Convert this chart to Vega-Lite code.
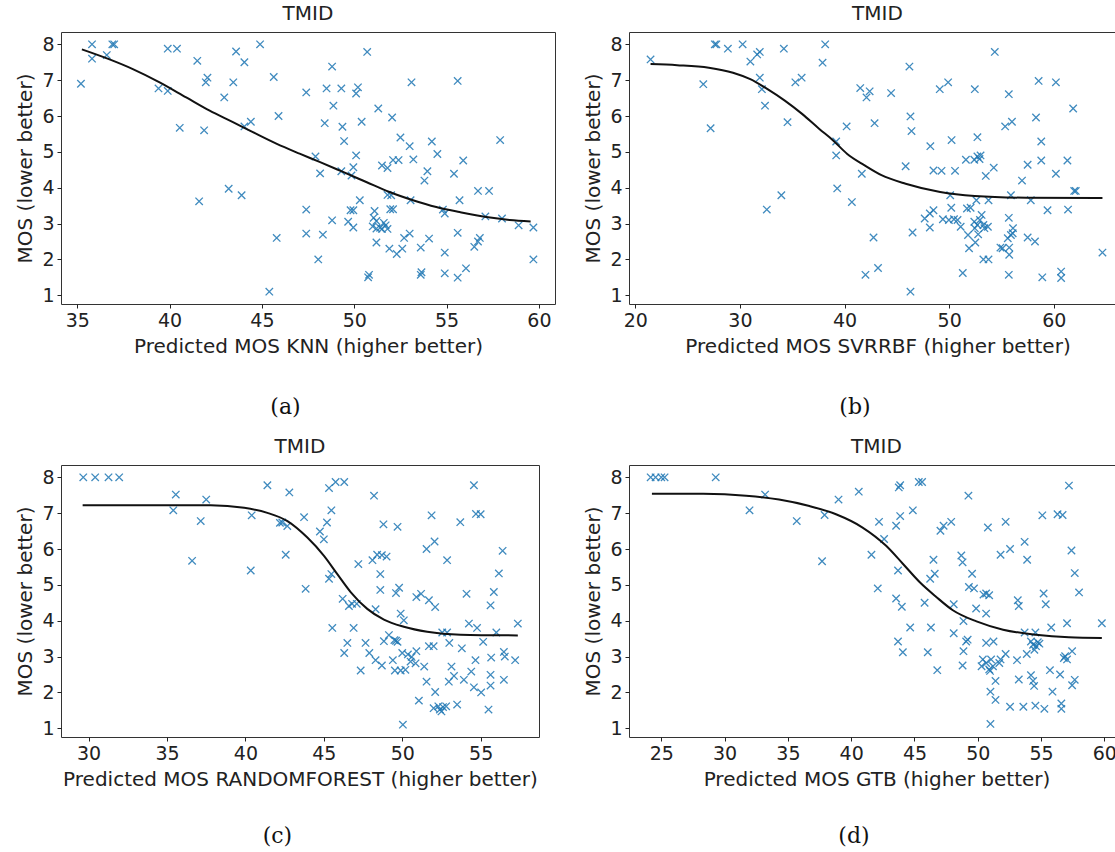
{
  "$schema": "https://vega.github.io/schema/vega-lite/v6.json",
  "padding": {"left": 15, "top": 3, "right": 0, "bottom": 0},
  "background": "white",
  "config": {
    "view": {"stroke": "#333333", "strokeWidth": 1},
    "axis": {"grid": false, "domain": false, "tickColor": "#222222", "tickSize": 4, "tickWidth": 1,
      "labelFont": "DejaVu Sans", "labelFontSize": 19, "labelColor": "#222222", "labelPadding": 3,
      "labelFlush": false, "labelOverlap": false, "labelBound": false, "labelSeparation": -40,
      "titleFont": "DejaVu Sans", "titleFontSize": 20, "titleFontWeight": "normal", "titleColor": "#222222", "titlePadding": 6},
    "axisY": {"labelOverlap": false, "labelSeparation": -40, "tickCount": 8},
    "title": {"font": "DejaVu Sans", "fontSize": 20, "fontWeight": "normal", "color": "#222222", "frame": "group", "anchor": "middle", "offset": 8, "baseline": "alphabetic"},
    "point": {"shape": "M-1,-1L1,1M-1,1L1,-1", "filled": false, "stroke": "#1f77b4", "strokeWidth": 1.3, "size": 55, "opacity": 0.85},
    "line": {"color": "#111111", "strokeWidth": 2, "interpolate": "monotone"}
  },
  "datasets": {
    "a_pts": [
      {"x":35.8,"y":8.0},{"x":35.8,"y":7.6},{"x":36.6,"y":7.7},{"x":36.9,"y":8.0},{"x":37.0,"y":8.0},{"x":35.2,"y":6.9},
      {"x":39.9,"y":7.88},{"x":40.4,"y":7.88},{"x":41.5,"y":7.54},{"x":43.6,"y":7.8},{"x":44.05,"y":7.5},{"x":44.9,"y":8.0},
      {"x":42.05,"y":7.07},{"x":41.96,"y":6.94},{"x":43.45,"y":6.94},{"x":39.4,"y":6.77},{"x":39.9,"y":6.7},{"x":42.96,"y":6.52},
      {"x":40.55,"y":5.67},{"x":41.87,"y":5.6},{"x":44.4,"y":5.84},{"x":44.05,"y":5.71},{"x":45.64,"y":7.09},{"x":45.9,"y":6.0},
      {"x":41.6,"y":3.62},{"x":43.2,"y":3.97},{"x":43.9,"y":3.79},{"x":45.4,"y":1.1},{"x":45.8,"y":2.6},{"x":47.4,"y":6.66},
      {"x":48.5,"y":6.77},{"x":49.3,"y":6.77},{"x":48.8,"y":7.38},{"x":48.87,"y":6.29},{"x":48.4,"y":5.8},{"x":49.36,"y":5.7},
      {"x":49.45,"y":5.3},{"x":50.7,"y":7.79},{"x":50.2,"y":6.8},{"x":50.1,"y":6.63},{"x":51.3,"y":6.21},{"x":50.4,"y":5.84},
      {"x":52.05,"y":5.96},{"x":53.1,"y":6.94},{"x":55.6,"y":6.98},{"x":47.9,"y":4.87},{"x":48.15,"y":4.4},{"x":49.3,"y":4.46},
      {"x":50.1,"y":4.9},{"x":49.95,"y":4.57},{"x":49.85,"y":4.34},{"x":52.5,"y":5.4},{"x":53.0,"y":5.16},{"x":54.2,"y":5.29},
      {"x":54.5,"y":4.94},{"x":53.2,"y":4.79},{"x":51.5,"y":4.62},{"x":51.8,"y":4.55},{"x":52.1,"y":4.77},{"x":52.4,"y":4.77},
      {"x":53.96,"y":4.46},{"x":53.8,"y":4.2},{"x":55.4,"y":4.39},{"x":55.9,"y":4.76},{"x":57.9,"y":5.33},{"x":56.7,"y":3.91},
      {"x":57.3,"y":3.91},{"x":55.7,"y":3.65},{"x":50.3,"y":3.65},{"x":51.8,"y":3.8},{"x":52.0,"y":3.79},{"x":53.05,"y":3.65},
      {"x":51.95,"y":3.4},{"x":52.1,"y":3.4},{"x":54.8,"y":3.39},{"x":54.9,"y":3.28},{"x":57.1,"y":3.2},{"x":58.0,"y":3.14},
      {"x":58.9,"y":2.95},{"x":59.7,"y":2.89},{"x":59.7,"y":2.0},{"x":47.4,"y":3.39},{"x":47.4,"y":2.72},{"x":48.3,"y":2.69},
      {"x":48.8,"y":3.09},{"x":48.05,"y":2.0},{"x":49.67,"y":3.05},{"x":49.95,"y":2.89},{"x":49.8,"y":3.37},{"x":49.95,"y":3.37},
      {"x":51.1,"y":3.35},{"x":51.05,"y":3.16},{"x":51.2,"y":3.07},{"x":51.0,"y":2.92},{"x":51.4,"y":2.88},{"x":51.6,"y":3.02},
      {"x":51.5,"y":2.85},{"x":51.8,"y":2.85},{"x":51.7,"y":2.95},{"x":51.2,"y":2.86},{"x":51.2,"y":2.47},{"x":51.9,"y":2.3},
      {"x":52.3,"y":2.15},{"x":52.6,"y":2.3},{"x":52.7,"y":2.6},{"x":53.0,"y":2.72},{"x":53.6,"y":2.33},{"x":54.05,"y":2.58},
      {"x":54.9,"y":2.19},{"x":55.6,"y":2.74},{"x":50.75,"y":1.5},{"x":50.8,"y":1.57},{"x":53.6,"y":1.57},{"x":53.64,"y":1.64},
      {"x":54.9,"y":1.61},{"x":55.6,"y":1.49},{"x":56.05,"y":1.75},{"x":56.5,"y":2.35},{"x":56.7,"y":2.5},{"x":56.8,"y":2.6}
    ],
    "a_line": [
      {"x":35.25,"y":7.86},{"x":36.75,"y":7.58},{"x":38.01,"y":7.31},{"x":39.46,"y":6.94},{"x":40.9,"y":6.52},{"x":42.17,"y":6.15},
      {"x":43.43,"y":5.83},{"x":44.51,"y":5.55},{"x":45.78,"y":5.23},{"x":47.04,"y":4.95},{"x":48.12,"y":4.72},{"x":49.39,"y":4.44},
      {"x":50.65,"y":4.16},{"x":51.91,"y":3.88},{"x":53.18,"y":3.65},{"x":54.44,"y":3.46},{"x":55.7,"y":3.32},{"x":57.15,"y":3.18},
      {"x":58.41,"y":3.1},{"x":59.55,"y":3.06}
    ],
    "b_pts": [
      {"x":21.46,"y":7.58},{"x":26.5,"y":6.89},{"x":27.2,"y":5.66},{"x":27.6,"y":8.0},{"x":27.75,"y":8.0},{"x":28.85,"y":7.88},
      {"x":30.26,"y":8.0},{"x":31.0,"y":7.52},{"x":31.65,"y":7.72},{"x":31.9,"y":7.79},{"x":31.9,"y":7.07},{"x":32.1,"y":6.75},
      {"x":32.4,"y":6.29},{"x":32.57,"y":3.39},{"x":33.96,"y":3.79},{"x":34.2,"y":7.88},{"x":34.55,"y":5.83},{"x":35.3,"y":6.94},
      {"x":35.9,"y":7.07},{"x":37.9,"y":7.49},{"x":38.15,"y":8.0},{"x":39.2,"y":5.29},{"x":39.2,"y":4.9},{"x":39.3,"y":3.98},
      {"x":40.2,"y":5.71},{"x":40.7,"y":3.6},{"x":41.5,"y":6.78},{"x":42.1,"y":6.52},{"x":42.4,"y":6.69},{"x":41.65,"y":4.39},
      {"x":42.0,"y":1.57},{"x":42.77,"y":2.61},{"x":42.87,"y":5.8},{"x":43.2,"y":1.76},{"x":44.45,"y":6.64},{"x":45.84,"y":4.6},
      {"x":46.2,"y":7.38},{"x":46.3,"y":5.99},{"x":46.4,"y":5.58},{"x":46.5,"y":2.75},{"x":46.3,"y":1.1},{"x":48.2,"y":5.16},
      {"x":47.66,"y":3.14},{"x":48.15,"y":3.28},{"x":48.5,"y":3.37},{"x":48.15,"y":2.89},{"x":48.5,"y":4.48},{"x":49.27,"y":4.47},
      {"x":49.1,"y":6.75},{"x":49.9,"y":6.94},{"x":49.4,"y":3.12},{"x":49.97,"y":3.1},{"x":50.46,"y":3.12},{"x":50.8,"y":3.1},
      {"x":50.1,"y":3.79},{"x":50.2,"y":3.44},{"x":50.23,"y":5.33},{"x":50.56,"y":4.47},{"x":51.1,"y":2.91},{"x":51.3,"y":1.62},
      {"x":51.6,"y":4.78},{"x":52.4,"y":4.78},{"x":52.7,"y":4.87},{"x":53.0,"y":4.9},{"x":52.9,"y":4.8},{"x":52.45,"y":6.75},
      {"x":52.7,"y":5.41},{"x":51.7,"y":3.42},{"x":52.05,"y":3.44},{"x":51.8,"y":2.68},{"x":51.9,"y":2.31},{"x":52.6,"y":3.65},
      {"x":52.4,"y":3.05},{"x":52.45,"y":2.87},{"x":52.7,"y":2.96},{"x":52.77,"y":2.7},{"x":52.94,"y":3.1},{"x":53.1,"y":3.24},
      {"x":53.27,"y":2.96},{"x":53.37,"y":2.87},{"x":53.7,"y":2.91},{"x":52.5,"y":2.47},{"x":53.27,"y":2.0},{"x":53.76,"y":2.0},
      {"x":53.5,"y":4.33},{"x":53.76,"y":3.65},{"x":54.26,"y":4.56},{"x":54.36,"y":7.79},{"x":54.9,"y":2.33},{"x":55.1,"y":2.31},
      {"x":55.35,"y":5.71},{"x":55.7,"y":6.61},{"x":56.0,"y":5.84},{"x":55.9,"y":3.79},{"x":55.7,"y":3.16},{"x":55.7,"y":1.57},
      {"x":55.6,"y":2.59},{"x":55.9,"y":2.68},{"x":56.1,"y":2.87},{"x":56.07,"y":2.73},{"x":55.74,"y":2.33},{"x":55.74,"y":2.13},
      {"x":56.96,"y":4.2},{"x":57.5,"y":4.64},{"x":57.5,"y":2.61},{"x":57.8,"y":3.65},{"x":58.2,"y":2.5},{"x":58.3,"y":5.96},
      {"x":58.55,"y":6.98},{"x":58.8,"y":5.29},{"x":58.8,"y":4.76},{"x":58.9,"y":1.5},{"x":59.4,"y":3.37},{"x":60.2,"y":6.94},
      {"x":60.2,"y":4.39},{"x":60.7,"y":1.66},{"x":60.7,"y":1.48},{"x":61.3,"y":4.76},{"x":61.36,"y":3.39},{"x":61.85,"y":6.21},
      {"x":61.95,"y":3.91},{"x":62.1,"y":3.91},{"x":64.65,"y":2.19}
    ],
    "b_line": [
      {"x":21.46,"y":7.45},{"x":24.0,"y":7.42},{"x":27.03,"y":7.35},{"x":29.34,"y":7.21},{"x":30.99,"y":7.03},{"x":32.64,"y":6.75},
      {"x":34.29,"y":6.43},{"x":35.94,"y":6.06},{"x":37.59,"y":5.64},{"x":38.91,"y":5.32},{"x":40.23,"y":4.95},{"x":41.88,"y":4.63},
      {"x":43.53,"y":4.35},{"x":45.84,"y":4.11},{"x":49.14,"y":3.88},{"x":52.44,"y":3.77},{"x":57.39,"y":3.72},{"x":64.65,"y":3.71}
    ],
    "c_pts": [
      {"x":29.66,"y":8.0},{"x":30.42,"y":8.0},{"x":31.27,"y":8.0},{"x":31.95,"y":8.0},{"x":35.4,"y":7.08},{"x":35.56,"y":7.52},
      {"x":36.6,"y":5.67},{"x":37.15,"y":6.78},{"x":37.5,"y":7.38},{"x":40.34,"y":5.4},{"x":40.4,"y":6.94},{"x":41.4,"y":7.78},
      {"x":42.2,"y":6.73},{"x":42.67,"y":6.64},{"x":42.35,"y":6.74},{"x":42.57,"y":5.84},{"x":42.8,"y":7.58},{"x":43.74,"y":6.89},
      {"x":43.84,"y":4.89},{"x":44.75,"y":6.49},{"x":45.0,"y":6.27},{"x":45.2,"y":6.74},{"x":45.33,"y":7.7},{"x":45.48,"y":7.08},
      {"x":45.75,"y":7.87},{"x":46.3,"y":7.87},{"x":45.33,"y":5.17},{"x":45.48,"y":5.3},{"x":45.54,"y":3.8},{"x":46.2,"y":4.61},
      {"x":46.5,"y":3.38},{"x":46.3,"y":3.1},{"x":46.6,"y":4.41},{"x":46.8,"y":4.47},{"x":47.1,"y":4.47},{"x":46.9,"y":3.8},
      {"x":47.2,"y":5.58},{"x":47.35,"y":2.61},{"x":47.66,"y":3.38},{"x":47.9,"y":3.1},{"x":48.1,"y":5.69},{"x":48.4,"y":5.84},
      {"x":48.7,"y":5.83},{"x":49.0,"y":5.79},{"x":48.2,"y":7.49},{"x":48.3,"y":4.32},{"x":48.3,"y":2.9},{"x":48.7,"y":2.75},
      {"x":48.6,"y":4.86},{"x":48.6,"y":5.3},{"x":48.8,"y":6.69},{"x":48.83,"y":3.43},{"x":49.15,"y":3.6},{"x":49.5,"y":3.46},
      {"x":49.6,"y":3.44},{"x":49.7,"y":3.41},{"x":49.4,"y":2.9},{"x":49.53,"y":2.61},{"x":49.9,"y":2.61},{"x":50.2,"y":2.63},
      {"x":49.6,"y":4.77},{"x":49.8,"y":4.92},{"x":49.7,"y":6.62},{"x":49.9,"y":4.2},{"x":50.1,"y":4.01},{"x":50.04,"y":1.1},
      {"x":50.0,"y":3.1},{"x":50.36,"y":3.06},{"x":50.53,"y":2.86},{"x":50.6,"y":2.99},{"x":50.9,"y":3.15},{"x":50.85,"y":2.81},
      {"x":50.9,"y":4.66},{"x":51.2,"y":4.75},{"x":51.06,"y":1.77},{"x":51.4,"y":2.72},{"x":51.55,"y":2.3},{"x":51.55,"y":6.0},
      {"x":51.7,"y":4.57},{"x":52.1,"y":4.38},{"x":51.7,"y":3.29},{"x":52.0,"y":3.29},{"x":51.87,"y":6.94},{"x":52.06,"y":6.21},
      {"x":52.1,"y":2.01},{"x":52.0,"y":1.56},{"x":52.3,"y":1.61},{"x":52.4,"y":1.52},{"x":52.6,"y":1.59},{"x":52.5,"y":1.47},
      {"x":52.8,"y":1.61},{"x":52.86,"y":5.69},{"x":52.55,"y":3.67},{"x":52.86,"y":3.67},{"x":53.0,"y":3.38},{"x":53.14,"y":2.72},
      {"x":52.97,"y":2.3},{"x":53.3,"y":2.46},{"x":53.5,"y":1.66},{"x":53.7,"y":6.75},{"x":53.8,"y":3.23},{"x":53.93,"y":2.35},
      {"x":54.1,"y":4.75},{"x":54.25,"y":3.92},{"x":54.4,"y":2.58},{"x":54.57,"y":2.14},{"x":54.57,"y":7.78},{"x":54.7,"y":6.98},
      {"x":55.0,"y":6.97},{"x":54.67,"y":2.9},{"x":54.77,"y":3.8},{"x":55.03,"y":2.0},{"x":55.16,"y":3.41},{"x":55.5,"y":1.52},
      {"x":55.63,"y":4.43},{"x":55.63,"y":2.49},{"x":55.63,"y":2.19},{"x":55.67,"y":2.97},{"x":55.84,"y":4.8},{"x":56.0,"y":3.67},
      {"x":56.16,"y":5.32},{"x":56.4,"y":5.95},{"x":56.48,"y":3.13},{"x":56.54,"y":3.0},{"x":56.48,"y":2.35},{"x":57.2,"y":2.9},
      {"x":57.37,"y":3.92}
    ],
    "c_line": [
      {"x":29.62,"y":7.22},{"x":34.6,"y":7.22},{"x":37.79,"y":7.22},{"x":39.92,"y":7.15},{"x":41.4,"y":7.01},{"x":42.68,"y":6.78},
      {"x":43.95,"y":6.32},{"x":45.01,"y":5.81},{"x":45.86,"y":5.3},{"x":46.71,"y":4.8},{"x":47.77,"y":4.33},{"x":48.83,"y":4.03},
      {"x":50.1,"y":3.83},{"x":51.59,"y":3.69},{"x":53.72,"y":3.61},{"x":57.37,"y":3.59}
    ],
    "d_pts": [
      {"x":24.16,"y":8.0},{"x":24.55,"y":8.0},{"x":25.0,"y":8.0},{"x":25.26,"y":8.0},{"x":29.3,"y":8.0},{"x":31.97,"y":7.08},
      {"x":33.2,"y":7.52},{"x":35.7,"y":6.78},{"x":37.7,"y":5.66},{"x":37.9,"y":6.95},{"x":39.0,"y":7.38},{"x":40.6,"y":7.6},
      {"x":41.6,"y":5.84},{"x":42.1,"y":4.9},{"x":42.2,"y":6.76},{"x":42.6,"y":6.28},{"x":43.55,"y":6.65},{"x":43.55,"y":4.62},
      {"x":43.7,"y":5.4},{"x":43.7,"y":3.42},{"x":43.76,"y":7.72},{"x":43.87,"y":7.78},{"x":43.87,"y":6.92},{"x":44.0,"y":4.39},
      {"x":44.08,"y":3.12},{"x":44.87,"y":7.08},{"x":44.66,"y":3.81},{"x":45.34,"y":7.87},{"x":45.6,"y":7.87},{"x":45.8,"y":4.5},
      {"x":46.05,"y":3.12},{"x":46.24,"y":5.17},{"x":46.5,"y":5.7},{"x":46.6,"y":5.31},{"x":46.3,"y":3.81},{"x":46.8,"y":2.62},
      {"x":47.05,"y":6.51},{"x":47.3,"y":6.65},{"x":47.9,"y":6.76},{"x":48.1,"y":4.46},{"x":48.1,"y":3.65},{"x":48.7,"y":5.82},
      {"x":48.8,"y":5.63},{"x":48.87,"y":3.99},{"x":48.87,"y":3.15},{"x":48.8,"y":2.75},{"x":49.08,"y":3.42},{"x":49.2,"y":3.47},
      {"x":49.26,"y":7.49},{"x":49.3,"y":4.94},{"x":49.55,"y":5.31},{"x":49.7,"y":4.9},{"x":49.87,"y":4.34},{"x":50.45,"y":4.73},
      {"x":50.66,"y":4.76},{"x":50.9,"y":4.71},{"x":50.66,"y":4.2},{"x":50.66,"y":3.38},{"x":50.8,"y":6.6},{"x":50.4,"y":2.92},
      {"x":50.3,"y":2.73},{"x":50.66,"y":2.82},{"x":50.9,"y":2.64},{"x":51.05,"y":2.92},{"x":50.97,"y":2.6},{"x":51.2,"y":2.73},
      {"x":51.24,"y":3.42},{"x":51.0,"y":2.02},{"x":51.0,"y":1.12},{"x":51.4,"y":2.32},{"x":51.4,"y":1.79},{"x":51.7,"y":2.82},
      {"x":51.8,"y":2.92},{"x":51.8,"y":5.84},{"x":52.2,"y":6.76},{"x":52.2,"y":3.07},{"x":52.55,"y":6.0},{"x":52.55,"y":1.6},
      {"x":53.1,"y":2.9},{"x":53.16,"y":4.57},{"x":53.24,"y":4.41},{"x":53.24,"y":2.36},{"x":53.6,"y":1.6},{"x":53.7,"y":6.2},
      {"x":53.9,"y":5.7},{"x":53.87,"y":3.07},{"x":53.7,"y":3.67},{"x":54.2,"y":3.42},{"x":54.37,"y":3.33},{"x":54.6,"y":3.29},
      {"x":54.74,"y":3.4},{"x":54.87,"y":3.36},{"x":54.47,"y":3.19},{"x":54.2,"y":2.48},{"x":54.37,"y":2.32},{"x":54.45,"y":2.18},
      {"x":54.55,"y":1.63},{"x":54.55,"y":3.67},{"x":55.1,"y":6.94},{"x":55.2,"y":4.76},{"x":55.37,"y":4.46},{"x":55.26,"y":1.54},
      {"x":55.8,"y":3.81},{"x":55.7,"y":2.62},{"x":55.9,"y":2.02},{"x":56.3,"y":6.97},{"x":56.7,"y":6.95},{"x":56.5,"y":2.5},
      {"x":56.6,"y":1.69},{"x":56.6,"y":1.54},{"x":56.8,"y":2.96},{"x":56.9,"y":3.01},{"x":57.05,"y":2.92},{"x":57.05,"y":3.93},
      {"x":57.2,"y":7.77},{"x":57.4,"y":5.96},{"x":57.45,"y":3.15},{"x":57.45,"y":2.2},{"x":57.66,"y":2.35},{"x":57.66,"y":5.33},
      {"x":58.0,"y":4.79},{"x":59.8,"y":3.93}
    ],
    "d_line": [
      {"x":24.26,"y":7.54},{"x":28.3,"y":7.54},{"x":31.7,"y":7.49},{"x":34.3,"y":7.38},{"x":36.7,"y":7.2},{"x":38.8,"y":6.97},
      {"x":40.9,"y":6.6},{"x":42.76,"y":6.09},{"x":44.08,"y":5.59},{"x":45.4,"y":5.08},{"x":46.7,"y":4.67},{"x":48.0,"y":4.3},
      {"x":49.9,"y":3.98},{"x":52.0,"y":3.75},{"x":54.6,"y":3.61},{"x":57.2,"y":3.54},{"x":59.8,"y":3.52}
    ]
  },
  "vconcat": [
    {
      "hconcat": [
        {
          "title": {"text": "(a)", "orient": "bottom", "frame": "bounds", "font": "DejaVu Serif", "fontSize": 22, "baseline": "top", "offset": 40, "color": "#111111"},
          "vconcat": [{
            "title": "TMID",
            "width": 494, "height": 272,
            "layer": [
              {"data": {"name": "a_pts"}, "mark": {"type": "point"},
               "encoding": {
                 "x": {"field": "x", "type": "quantitative", "scale": {"domain": [34.12, 60.87], "nice": false, "zero": false}, "axis": {"values": [35,40,45,50,55,60], "labelOverlap": false, "title": "Predicted MOS KNN (higher better)"}},
                 "y": {"field": "y", "type": "quantitative", "scale": {"domain": [0.755, 8.345], "nice": false, "zero": false}, "axis": {"values": [1,2,3,4,5,6,7,8], "labelOverlap": false, "labelSeparation": -40, "title": "MOS (lower better)"}}}},
              {"data": {"name": "a_line"}, "mark": {"type": "line"},
               "encoding": {"x": {"field": "x", "type": "quantitative"}, "y": {"field": "y", "type": "quantitative"}}}
            ]
          }]
        },
        {
          "title": {"text": "(b)", "orient": "bottom", "frame": "bounds", "font": "DejaVu Serif", "fontSize": 22, "baseline": "top", "offset": 40, "color": "#111111"},
          "vconcat": [{
            "title": "TMID",
            "width": 497, "height": 272,
            "layer": [
              {"data": {"name": "b_pts"}, "mark": {"type": "point"},
               "encoding": {
                 "x": {"field": "x", "type": "quantitative", "scale": {"domain": [19.4, 66.9], "nice": false, "zero": false}, "axis": {"values": [20,30,40,50,60], "labelOverlap": false, "title": "Predicted MOS SVRRBF (higher better)"}},
                 "y": {"field": "y", "type": "quantitative", "scale": {"domain": [0.755, 8.345], "nice": false, "zero": false}, "axis": {"values": [1,2,3,4,5,6,7,8], "labelOverlap": false, "labelSeparation": -40, "title": "MOS (lower better)"}}}},
              {"data": {"name": "b_line"}, "mark": {"type": "line"},
               "encoding": {"x": {"field": "x", "type": "quantitative"}, "y": {"field": "y", "type": "quantitative"}}}
            ]
          }]
        }
      ],
      "spacing": 27
    },
    {
      "hconcat": [
        {
          "title": {"text": "(c)", "orient": "bottom", "frame": "bounds", "font": "DejaVu Serif", "fontSize": 22, "baseline": "top", "offset": 36, "color": "#111111"},
          "vconcat": [{
            "title": "TMID",
            "width": 478, "height": 272,
            "layer": [
              {"data": {"name": "c_pts"}, "mark": {"type": "point"},
               "encoding": {
                 "x": {"field": "x", "type": "quantitative", "scale": {"domain": [28.24, 58.72], "nice": false, "zero": false}, "axis": {"values": [30,35,40,45,50,55], "labelOverlap": false, "title": "Predicted MOS RANDOMFOREST (higher better)"}},
                 "y": {"field": "y", "type": "quantitative", "scale": {"domain": [0.755, 8.345], "nice": false, "zero": false}, "axis": {"values": [1,2,3,4,5,6,7,8], "labelOverlap": false, "labelSeparation": -40, "title": "MOS (lower better)"}}}},
              {"data": {"name": "c_line"}, "mark": {"type": "line"},
               "encoding": {"x": {"field": "x", "type": "quantitative"}, "y": {"field": "y", "type": "quantitative"}}}
            ]
          }]
        },
        {
          "title": {"text": "(d)", "orient": "bottom", "frame": "bounds", "font": "DejaVu Serif", "fontSize": 22, "baseline": "top", "offset": 36, "color": "#111111"},
          "vconcat": [{
            "title": "TMID",
            "width": 495, "height": 272,
            "layer": [
              {"data": {"name": "d_pts"}, "mark": {"type": "point"},
               "encoding": {
                 "x": {"field": "x", "type": "quantitative", "scale": {"domain": [22.45, 61.55], "nice": false, "zero": false}, "axis": {"values": [25,30,35,40,45,50,55,60], "labelOverlap": false, "title": "Predicted MOS GTB (higher better)"}},
                 "y": {"field": "y", "type": "quantitative", "scale": {"domain": [0.755, 8.345], "nice": false, "zero": false}, "axis": {"values": [1,2,3,4,5,6,7,8], "labelOverlap": false, "labelSeparation": -40, "title": "MOS (lower better)"}}}},
              {"data": {"name": "d_line"}, "mark": {"type": "line"},
               "encoding": {"x": {"field": "x", "type": "quantitative"}, "y": {"field": "y", "type": "quantitative"}}}
            ]
          }]
        }
      ],
      "spacing": 43
    }
  ],
  "spacing": 18
}
